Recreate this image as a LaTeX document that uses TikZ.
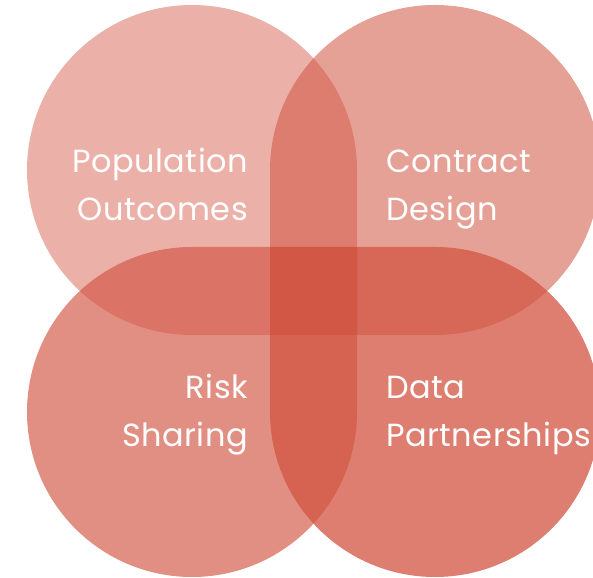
\documentclass[tikz,border=0pt]{standalone}
\usepackage{fontspec}
\setmainfont{Poppins}[LetterSpace=1.5]
\definecolor{petal}{RGB}{210,83,65}
\tikzset{
  petalshape/.style={fill=petal, draw=none},
  lbl/.style={text=white, font=\fontsize{32}{36}\selectfont, inner sep=0pt}
}
\begin{document}
\begin{tikzpicture}[x=1pt,y=1pt]
\useasboundingbox (0,0) rectangle (593,577);
% top-left petal
\fill[petalshape, fill opacity=0.45] (357,242) -- (357,407) arc[start angle=0,end angle=270,radius=165] -- cycle;
% top-right petal
\fill[petalshape, fill opacity=0.55] (270,242) -- (435,242) arc[start angle=270,end angle=540,radius=165] -- cycle;
% bottom-left petal
\fill[petalshape, fill opacity=0.65] (357,330) -- (192,330) arc[start angle=90,end angle=360,radius=165] -- cycle;
% bottom-right petal
\fill[petalshape, fill opacity=0.75] (270,330) -- (270,165) arc[start angle=180,end angle=450,radius=165] -- cycle;
% labels
\node[lbl, anchor=base east] (po1) at (248,404.5) {Population};
\node[lbl, anchor=base east] (po2) at (248,356.5) {Outcomes};
\node[lbl, anchor=base west] (cd1) at (386,404.5) {Contract};
\node[lbl, anchor=base west] (cd2) at (386,356.5) {Design};
\node[lbl, anchor=base east] (rs1) at (248,178.5) {Risk};
\node[lbl, anchor=base east] (rs2) at (248,130.5) {Sharing};
\node[lbl, anchor=base west] (dp1) at (386,178.5) {Data};
\node[lbl, anchor=base west] (dp2) at (386,130.5) {Partnerships};
\end{tikzpicture}
\end{document}
